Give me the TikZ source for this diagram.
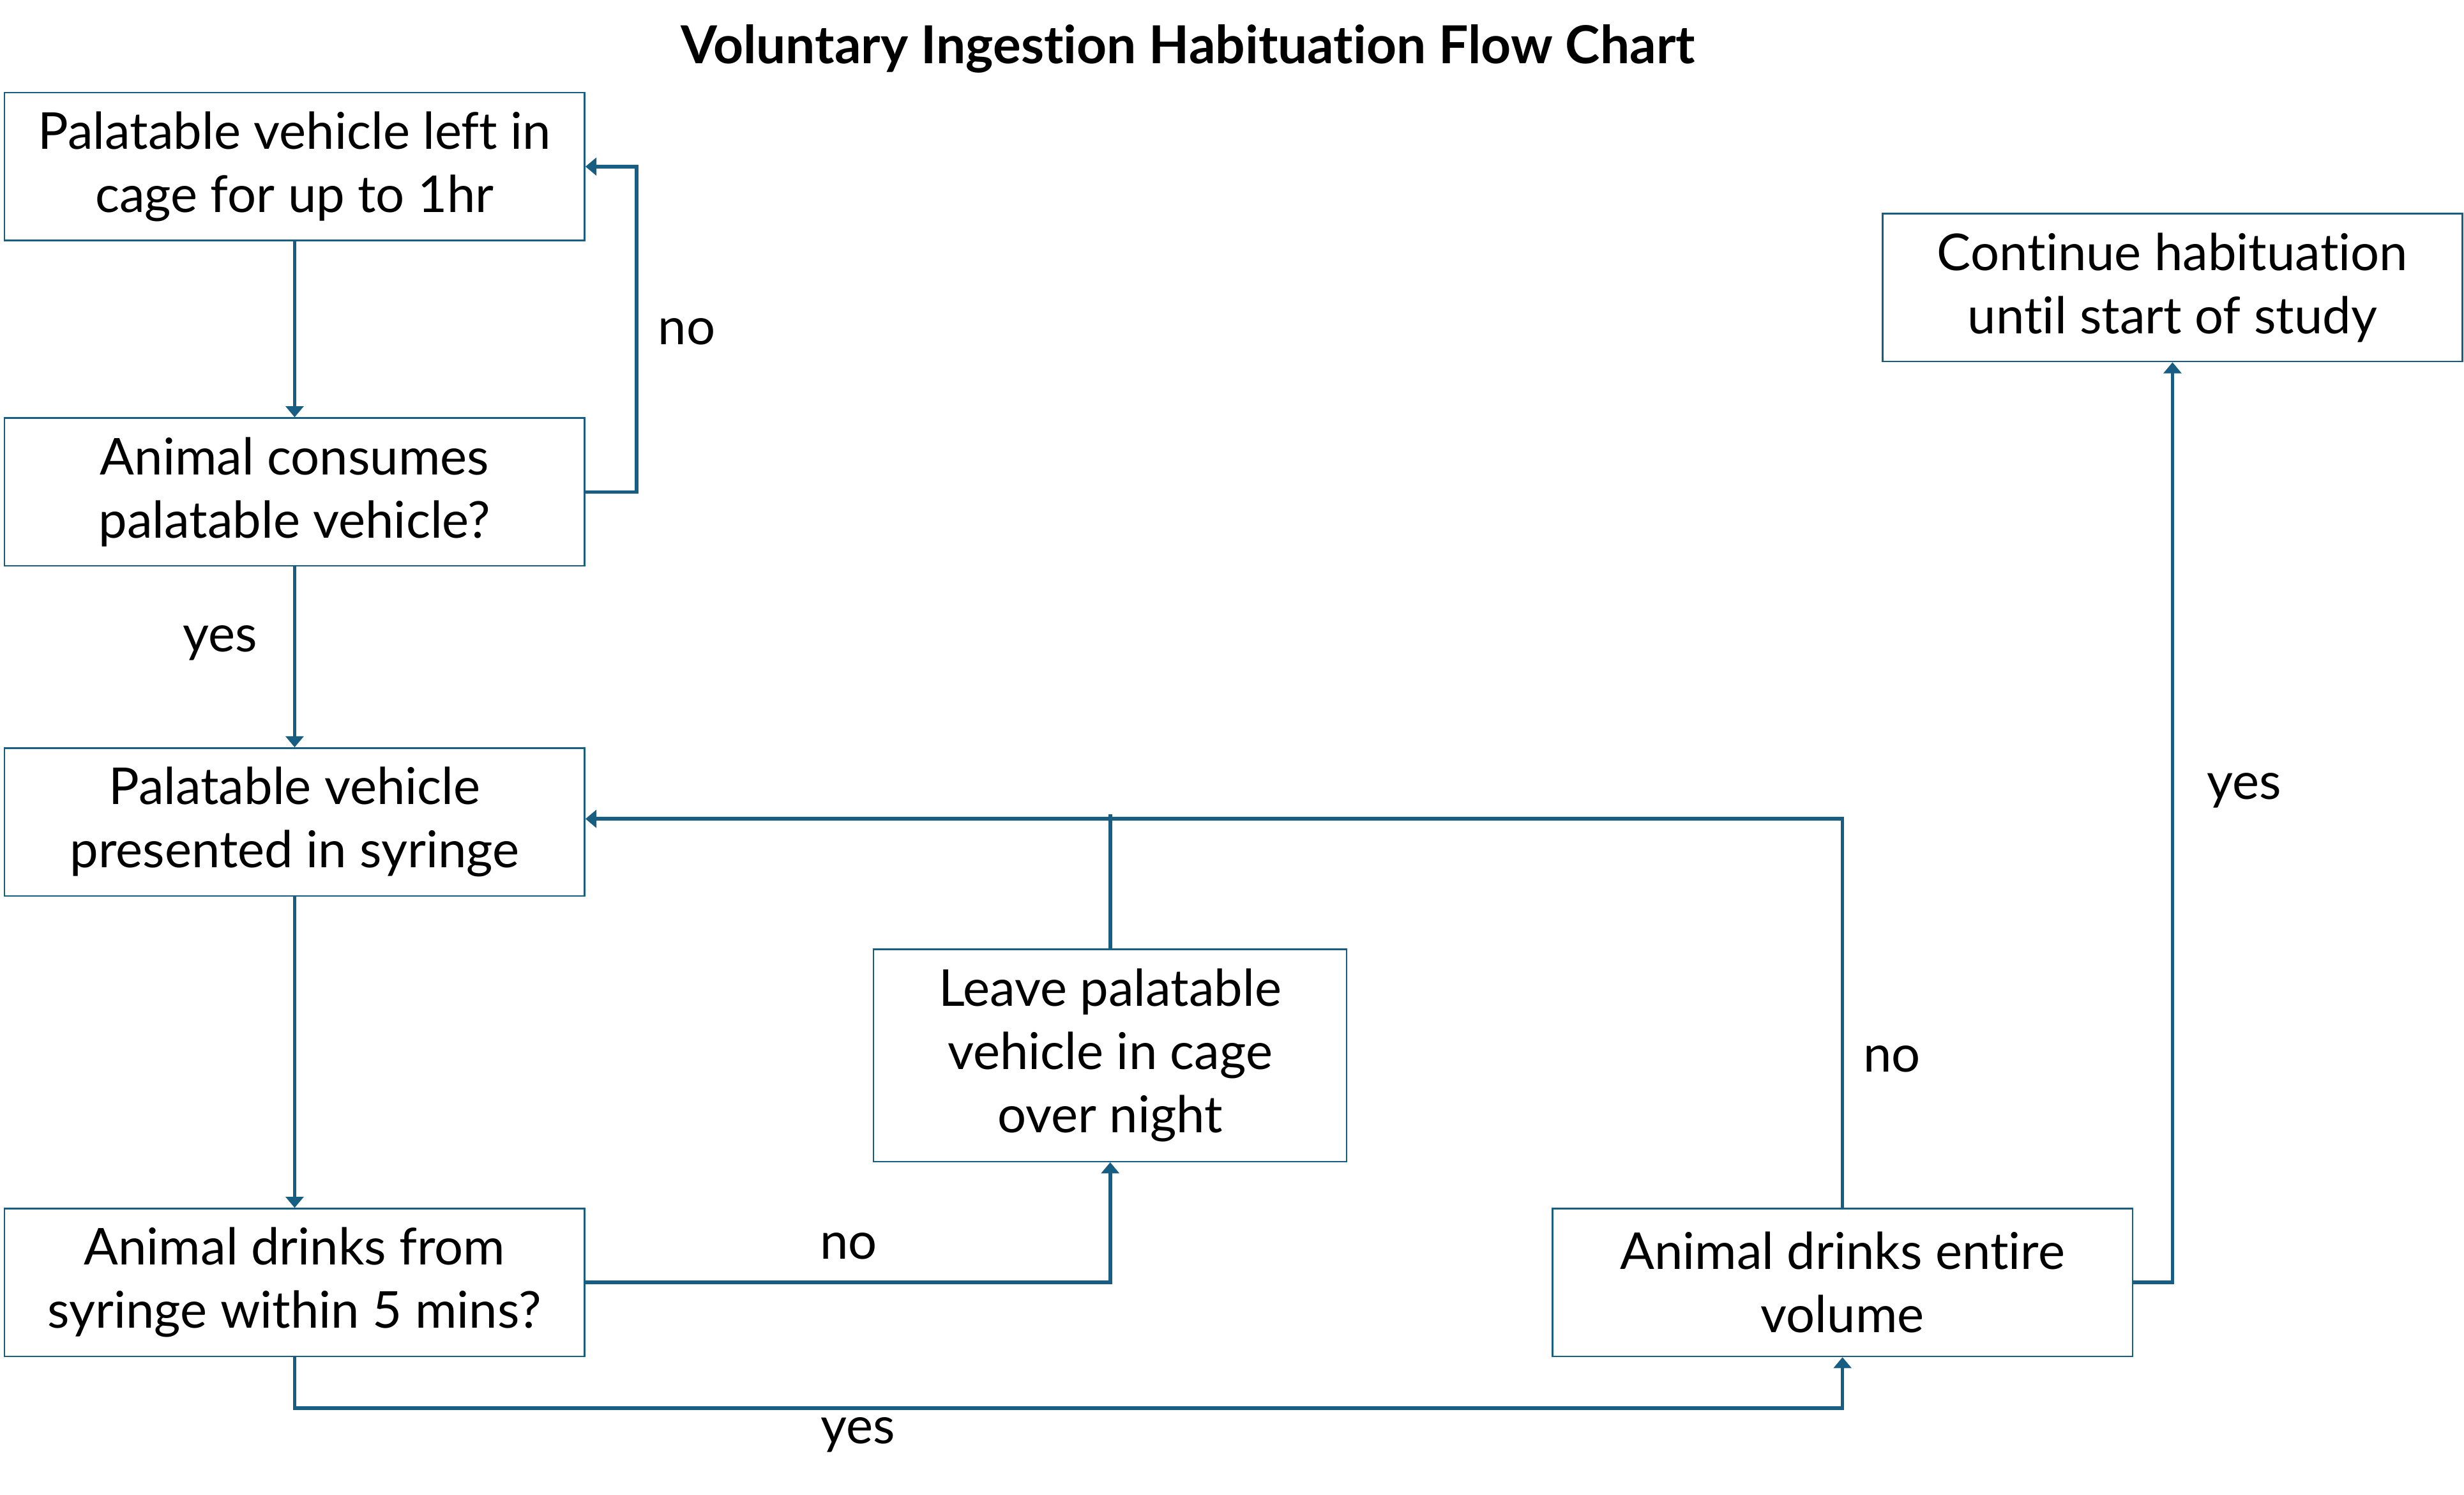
\documentclass[tikz,border=0pt]{standalone}
\usepackage{fontspec}
\setmainfont[Ligatures=NoCommon]{Lato}
\usetikzlibrary{arrows.meta}
\definecolor{flowblue}{RGB}{24,94,130}
\tikzset{
  box/.style={draw=flowblue,line width=0.7pt,align=center,inner sep=0pt,
    font=\fontsize{23}{28.6}\selectfont},
  flow/.style={draw=flowblue,line width=1.6pt,-{Triangle[length=5pt,width=8pt]}},
  link/.style={draw=flowblue,line width=1.6pt},
  tag/.style={font=\fontsize{23}{28}\selectfont}
}
\begin{document}
\begin{tikzpicture}[x=0.025cm,y=-0.025cm]
\useasboundingbox (0,0) rectangle (1568,951);
\node[font=\bfseries\fontsize{23.7}{28}\selectfont] (title) at (756,31) {Voluntary Ingestion Habituation Flow Chart};
\node[box,minimum width=9.225cm,minimum height=2.35cm] (left) at (187.5,106) {Palatable vehicle left in\\cage for up to 1hr};
\node[box,minimum width=9.225cm,minimum height=2.35cm] (eats) at (187.5,313) {Animal consumes\\palatable vehicle?};
\node[box,minimum width=9.225cm,minimum height=2.35cm] (syringe) at (187.5,523) {Palatable vehicle\\presented in syringe};
\node[box,minimum width=9.225cm,minimum height=2.35cm] (drinks) at (187.5,816) {Animal drinks from\\syringe within 5 mins?};
\node[box,minimum width=7.525cm,minimum height=3.375cm] (night) at (706.5,671.5) {Leave palatable\\vehicle in cage\\over night};
\node[box,minimum width=9.225cm,minimum height=2.35cm] (entire) at (1172.5,816) {Animal drinks entire\\volume};
\node[box,minimum width=9.225cm,minimum height=2.35cm] (cont) at (1382.5,183) {Continue habituation\\until start of study};
\coordinate (j1) at (405,0);
\coordinate (j2) at (0,896);
\coordinate (j3) at (0,521);
\coordinate (j5) at (706.5,518);
% arrows
\draw[flow] (left) -- (eats);
\draw[flow] (eats.east) -- (eats.east -| j1) |- (left.east);
\draw[flow] (eats) -- (syringe);
\draw[flow] (syringe) -- (drinks);
\draw[flow] (drinks.east) -| (night.south);
\draw[flow] (drinks.south) -- (drinks.south |- j2) -| (entire.south);
\draw[flow] (entire.north) -- (entire.north |- j3) -- (syringe.east |- j3);
\draw[link] (night.north) -- (j5);
\draw[flow] (entire.east) -| (cont.south);
% labels
\node[tag] (n1) at (437,211) {no};
\node[tag] (y1) at (140,409) {yes};
\node[tag] (n2) at (540,793) {no};
\node[tag] (y2) at (546,913) {yes};
\node[tag] (n3) at (1204,674) {no};
\node[tag] (y3) at (1428,503) {yes};
\end{tikzpicture}
\end{document}
